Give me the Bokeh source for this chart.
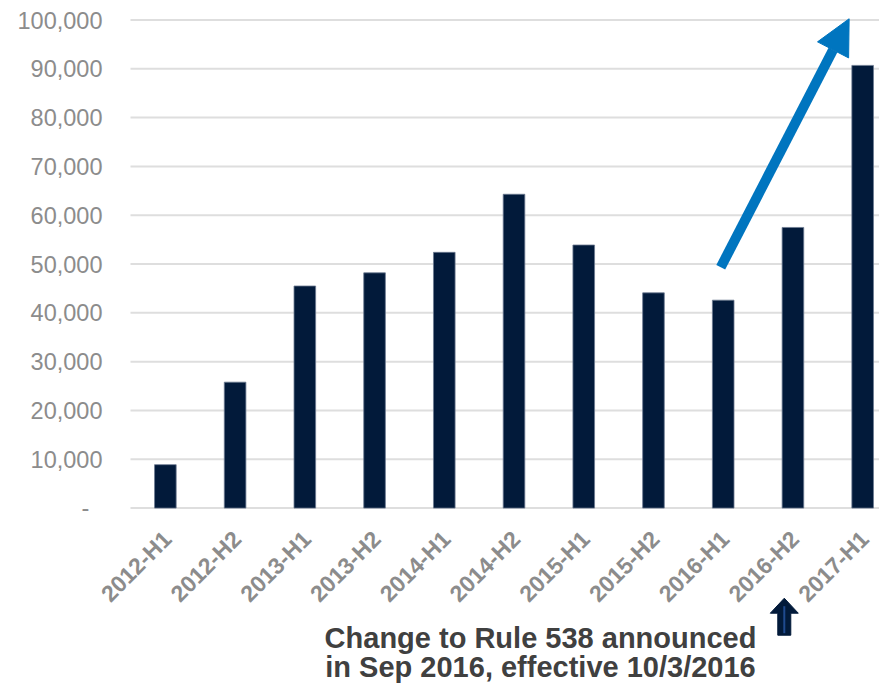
import math
from bokeh.plotting import figure
from bokeh.models import Range1d, Arrow, NormalHead
from bokeh.core.properties import value
from bokeh.embed import file_html
from bokeh.resources import INLINE

# ---- data ----
categories = ["2012-H1", "2012-H2", "2013-H1", "2013-H2", "2014-H1", "2014-H2",
              "2015-H1", "2015-H2", "2016-H1", "2016-H2", "2017-H1"]
values = [8900, 25800, 45500, 48200, 52400, 64300, 53900, 44100, 42600, 57500, 90700]
y_ticks = [0, 10000, 20000, 30000, 40000, 50000, 60000, 70000, 80000, 90000, 100000]
y_tick_labels = ["-\u00a0\u00a0"] + [f"{v:,}" for v in y_ticks[1:]]
note_lines = ["Change to Rule 538 announced", "in Sep 2016, effective 10/3/2016"]

xs = list(range(len(categories)))

W, H = 879, 683
PX_PER_K = 4.881            # pixels per 1,000 units (y)
PX_PER_CAT = 69.73          # pixels per category (x)
BASE = 507.6                # pixel row of zero
LEFT = 130                  # pixel column where plot area starts
y_start = -(H - BASE) / PX_PER_K * 1000
y_end = BASE / PX_PER_K * 1000
x_start = -0.5 - LEFT / PX_PER_CAT
x_end = -0.5 + (W - LEFT) / PX_PER_CAT
px = 1 / PX_PER_CAT
py = 1000 / PX_PER_K

p = figure(width=W, height=H, output_backend="svg", toolbar_location=None,
           x_range=Range1d(x_start, x_end), y_range=Range1d(y_start, y_end),
           min_border_left=0, min_border_right=0, min_border_top=0,
           min_border_bottom=0)
p.outline_line_color = None
p.background_fill_color = "white"
p.border_fill_color = "white"
p.xaxis.visible = False
p.yaxis.visible = False
p.xgrid.visible = False
p.ygrid.visible = False

# gridlines (incl. zero baseline)
n_t = len(y_ticks)
p.segment(x0=[-0.5] * n_t, y0=y_ticks, x1=[x_end] * n_t, y1=y_ticks,
          line_color="#DEDEDE", line_width=2)

# y tick labels
p.text(x=[-0.5] * n_t, y=y_ticks, text=y_tick_labels, x_offset=-28,
       text_align="right", text_baseline="middle",
       text_font=value("Liberation Sans"), text_font_size="23.5px",
       text_color="#8C8C8C")

# bars
p.vbar(x=xs, top=values, width=0.31, fill_color="#021A3A",
       line_color="#6C7A90", line_width=0.8)

# category labels
p.text(x=xs, y=[0] * len(xs), text=categories, angle=math.pi / 4,
       x_offset=2, y_offset=27, text_align="right", text_baseline="middle",
       text_font=value("Liberation Sans"), text_font_style="bold",
       text_font_size="23px", text_color="#8C8C8C")

# blue trend arrow
p.add_layout(Arrow(x_start=7.965, y_start=49350, x_end=9.806, y_end=100250,
                   line_color="#0075BF", line_width=10,
                   end=NormalHead(size=35, fill_color="#0075BF", line_color="#0075BF")))

# small dark arrow under 2016-H2
ax = 8.876
tip = -18460
p.patch(x=[ax, ax + 14 * px, ax + 6.5 * px, ax + 6.5 * px, ax - 6.5 * px, ax - 6.5 * px, ax - 14 * px],
        y=[tip, tip - 15 * py, tip - 15 * py, tip - 37 * py, tip - 37 * py, tip - 15 * py, tip - 15 * py],
        fill_color="#021A3A", line_color="#021A3A")
p.segment(x0=[ax], y0=[tip - 35 * py], x1=[ax], y1=[tip - 8 * py],
          line_color="#1F4A8F", line_width=2)

# note text
note_y = [(BASE - 637) / PX_PER_K * 1000, (BASE - 666) / PX_PER_K * 1000]
p.text(x=[5.38] * len(note_lines), y=note_y, text=note_lines, text_align="center",
       text_baseline="alphabetic", text_font=value("Liberation Sans"),
       text_font_style="bold", text_font_size="29px", text_color="#404040")

open("out.html", "w").write(file_html(p, INLINE))
